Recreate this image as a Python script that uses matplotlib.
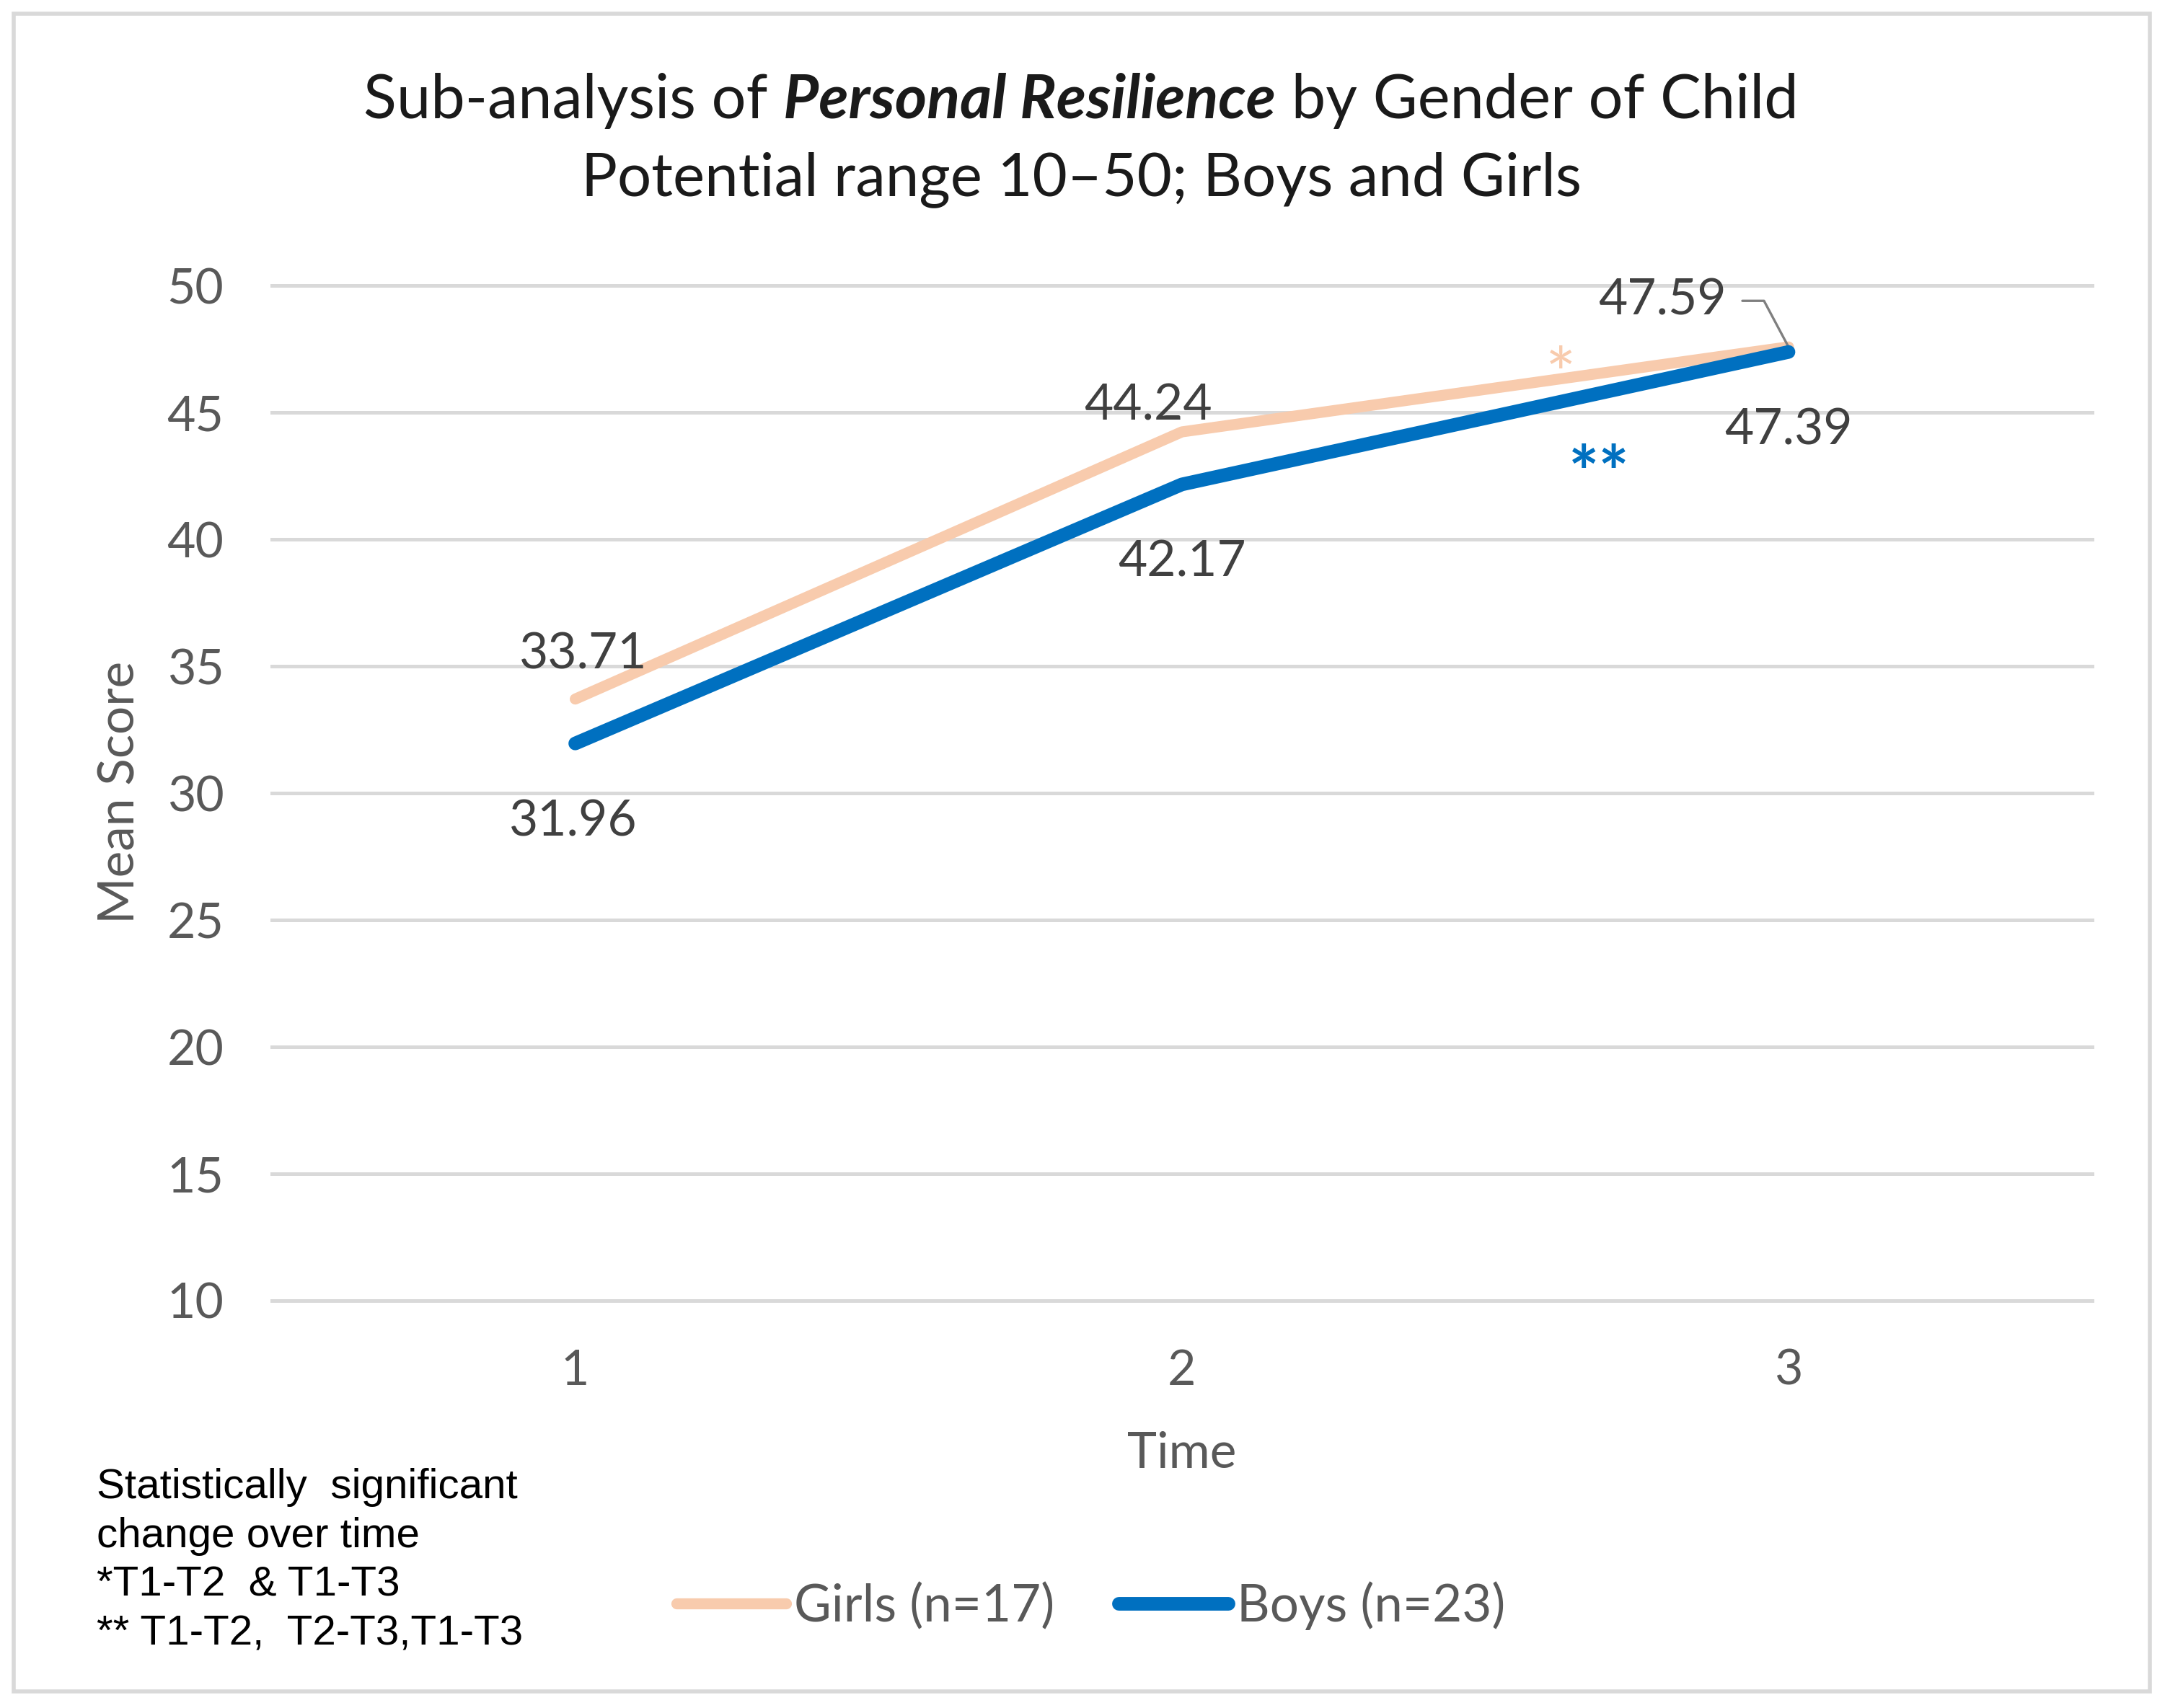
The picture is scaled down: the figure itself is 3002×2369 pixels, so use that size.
import matplotlib
matplotlib.use("Agg")
import matplotlib.pyplot as plt
from matplotlib.patches import Rectangle

# data
times = [1, 2, 3]
girls = [33.71, 44.24, 47.59]
boys = [31.96, 42.17, 47.39]
series_names = ["Girls (n=17)", "Boys (n=23)"]
yticks = [10, 15, 20, 25, 30, 35, 40, 45, 50]

GIRL_COL = "#F8CBAD"
BOY_COL = "#0070C0"
TICK_COL = "#595959"
LABEL_COL = "#404040"

plt.rcParams["font.family"] = ["Lato", "DejaVu Sans"]

fig = plt.figure(figsize=(15.01, 11.845), dpi=200)
ax = fig.add_axes([0.1256, 0.2385, 0.8406, 0.5942])

ax.plot(times, girls, color=GIRL_COL, lw=5.5, solid_capstyle="round",
        solid_joinstyle="round", label=series_names[0], zorder=3)
ax.plot(times, boys, color=BOY_COL, lw=6.8, solid_capstyle="round",
        solid_joinstyle="round", label=series_names[1], zorder=4)

ax.set_xlim(0.5, 3.5)
ax.set_ylim(10, 50)
ax.set_xticks(times)
ax.set_yticks(yticks)
ax.tick_params(axis="both", length=0, labelsize=24.5, labelcolor=TICK_COL)
ax.tick_params(axis="x", pad=24)
ax.tick_params(axis="y", pad=24)
for s in ax.spines.values():
    s.set_visible(False)
ax.yaxis.grid(True, color="#D9D9D9", lw=1.8)
for gl in ax.get_ygridlines():
    gl.set_clip_on(False)
ax.set_axisbelow(True)

# data labels (offsets in points)
girl_offsets = [(4, 22), (-17, 13), None]
boy_offsets = [(-1, -39), (0, -39), (0, -39)]
for x, y, off in zip(times, girls, girl_offsets):
    if off is None:
        continue
    ax.annotate(f"{y:.2f}", (x, y), xytext=off, textcoords="offset points",
                ha="center", va="center", fontsize=25, color=LABEL_COL)
for x, y, off in zip(times, boys, boy_offsets):
    ax.annotate(f"{y:.2f}", (x, y), xytext=off, textcoords="offset points",
                ha="center", va="center", fontsize=25, color=LABEL_COL)

# label with leader line for the last girls point
ax.annotate(f"{girls[2]:.2f}", (times[2], girls[2]), xytext=(-63, 23),
            textcoords="offset points", ha="center", va="center",
            fontsize=25, color=LABEL_COL,
            arrowprops=dict(arrowstyle="-", color="#7F7F7F", lw=1.2,
                            relpos=(1.0, 0.5), shrinkA=6, shrinkB=0,
                            connectionstyle="angle,angleA=0,angleB=118,rad=0"))

# significance markers
ax.text(2.624, 46.3, "*", color=GIRL_COL, fontsize=36, ha="center", va="center")
ax.text(2.688, 42.45, "**", color=BOY_COL, fontsize=36, fontweight="bold",
        ha="center", va="center")

# axis titles
fig.text(87 / 1568, 1 - 574 / 1237, "Mean Score", rotation=90, ha="center",
         va="center", fontsize=25, color=TICK_COL)
fig.text(856 / 1568, 1 - 1053 / 1237, "Time", ha="center", va="center",
         fontsize=25, color=TICK_COL)

# title, first line with a bold italic part
fig.canvas.draw()
renderer = fig.canvas.get_renderer()
parts = [("Sub-analysis of ", "normal", "normal"),
         ("Personal Resilience", "bold", "italic"),
         (" by Gender of Child", "normal", "normal")]
y1 = 1 - 73 / 1237
texts = []
for txt, w, st in parts:
    t = fig.text(0, y1, txt, fontsize=30.5, fontweight=w, fontstyle=st,
                 color="#1a1a1a", ha="left", va="center")
    texts.append(t)
widths = [t.get_window_extent(renderer).width / fig.bbox.width for t in texts]
x0 = 783 / 1568 - sum(widths) / 2
for t, w in zip(texts, widths):
    t.set_x(x0)
    x0 += w
fig.text(783 / 1568, 1 - 130 / 1237, "Potential range 10\u201350; Boys and Girls",
         fontsize=30, color="#1a1a1a", ha="center", va="center")

# legend
fig.legend(loc="center", bbox_to_anchor=(790 / 1568, 1 - 1163 / 1237),
           ncol=2, frameon=False, fontsize=25.5, labelcolor=TICK_COL,
           handlelength=2.15, handletextpad=0.16, columnspacing=1.25)

# footnote
fig.text(70 / 1568, 1 - 1063 / 1237,
         "Statistically  significant\nchange over time\n*T1-T2  & T1-T3\n** T1-T2,  T2-T3,T1-T3",
         family=["Liberation Sans", "DejaVu Sans"], fontsize=21, color="black",
         ha="left", va="top", linespacing=1.33)

# outer frame
fig.patches.append(Rectangle((10 / 1568, 1 - 1225 / 1237), 1547 / 1568, 1215 / 1237,
                             transform=fig.transFigure, fill=False,
                             edgecolor="#D9D9D9", lw=2))

fig.savefig("out.png", dpi=200, facecolor="white")
